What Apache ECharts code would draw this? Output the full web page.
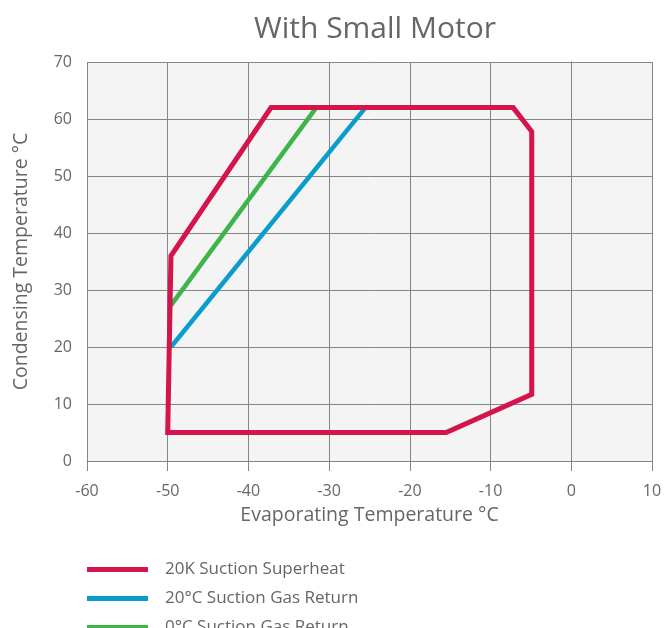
<!DOCTYPE html>
<html>
<head>
<meta charset="utf-8">
<style>
  html, body { margin: 0; padding: 0; background: #ffffff; overflow: hidden; }
  #chart { width: 668px; height: 668px; }
</style>
<script src="https://cdn.jsdelivr.net/npm/echarts@6/dist/echarts.min.js"></script>
</head>
<body>
<div id="chart"></div>
<script>
// Operating envelope: evaporating temperature (°C) vs condensing temperature (°C)
const seriesNames = ['20K Suction Superheat', '20°C Suction Gas Return', '0°C Suction Gas Return'];
const seriesColors = ['#d4144a', '#0a9ccc', '#3db54a'];

// 20K suction superheat envelope (closed polygon)
const superheatEvap = [-50, -49.6, -37.2, -7.2, -4.9, -4.9, -15.5, -50];
const superheatCond = [5, 36, 62, 62, 57.8, 11.7, 5, 5];

// 20°C suction gas return limit
const gas20Evap = [-49.6, -25.5];
const gas20Cond = [20, 62];

// 0°C suction gas return limit
const gas0Evap = [-49.6, -31.6];
const gas0Cond = [27.3, 62];

const xTicks = { min: -60, max: 10, interval: 10 };
const yTicks = { min: 0, max: 70, interval: 10 };

const zip = (xs, ys) => xs.map((x, i) => [x, ys[i]]);

const font = '"Open Sans", "Noto Sans", sans-serif';
const textGray = '#666666';
const gridGray = '#858585';

// One legend block per row, stacked below the plot
const legendRowTop = 561;
const legendRowStep = 29;
const legends = seriesNames.map((name, i) => ({
  orient: 'vertical',
  left: 87,
  top: legendRowTop + i * legendRowStep,
  padding: 0,
  itemWidth: 61,
  itemHeight: 5,
  icon: 'rect',
  data: [name],
  textStyle: { color: textGray, fontSize: 17, fontFamily: font, padding: [0, 0, 0, 12] }
}));

const chart = echarts.init(document.getElementById('chart'), null, { renderer: 'canvas' });

chart.setOption({
  animation: false,
  title: {
    text: 'With Small Motor',
    left: 370,
    top: 9,
    textAlign: 'center',
    textStyle: { color: textGray, fontSize: 30, fontWeight: 'normal', fontFamily: font }
  },
  grid: {
    left: 87, right: 16, top: 62, bottom: 207,
    show: true, backgroundColor: '#f4f4f4', borderWidth: 0
  },
  legend: legends,
  xAxis: {
    type: 'value',
    min: xTicks.min, max: xTicks.max, interval: xTicks.interval,
    name: 'Evaporating Temperature °C',
    nameLocation: 'middle',
    nameGap: 44,
    nameTextStyle: { color: textGray, fontSize: 19.5, fontFamily: font },
    axisLine: { show: true, lineStyle: { color: gridGray, width: 1 } },
    axisTick: { show: true, length: 10, lineStyle: { color: gridGray } },
    axisLabel: { color: textGray, fontSize: 16, fontFamily: font, margin: 22 },
    splitLine: { show: true, lineStyle: { color: gridGray, width: 1 } }
  },
  yAxis: {
    type: 'value',
    min: yTicks.min, max: yTicks.max, interval: yTicks.interval,
    name: 'Condensing Temperature °C',
    nameLocation: 'middle',
    nameGap: 56,
    nameTextStyle: { color: textGray, fontSize: 19.5, fontFamily: font },
    axisLine: { show: true, lineStyle: { color: gridGray, width: 1 } },
    axisTick: { show: true, length: 11, lineStyle: { color: gridGray } },
    axisLabel: { color: textGray, fontSize: 16, fontFamily: font, margin: 15 },
    splitLine: { show: true, lineStyle: { color: gridGray, width: 1 } }
  },
  series: [
    {
      name: seriesNames[0], type: 'line', showSymbol: false, symbol: 'none',
      data: zip(superheatEvap, superheatCond),
      color: seriesColors[0],
      lineStyle: { color: seriesColors[0], width: 5, join: 'miter', cap: 'square' },
      z: 3
    },
    {
      name: seriesNames[1], type: 'line', showSymbol: false, symbol: 'none',
      data: zip(gas20Evap, gas20Cond),
      color: seriesColors[1],
      lineStyle: { color: seriesColors[1], width: 4.5 },
      z: 2
    },
    {
      name: seriesNames[2], type: 'line', showSymbol: false, symbol: 'none',
      data: zip(gas0Evap, gas0Cond),
      color: seriesColors[2],
      lineStyle: { color: seriesColors[2], width: 4.5 },
      z: 2
    }
  ]
});
</script>
</body>
</html>
